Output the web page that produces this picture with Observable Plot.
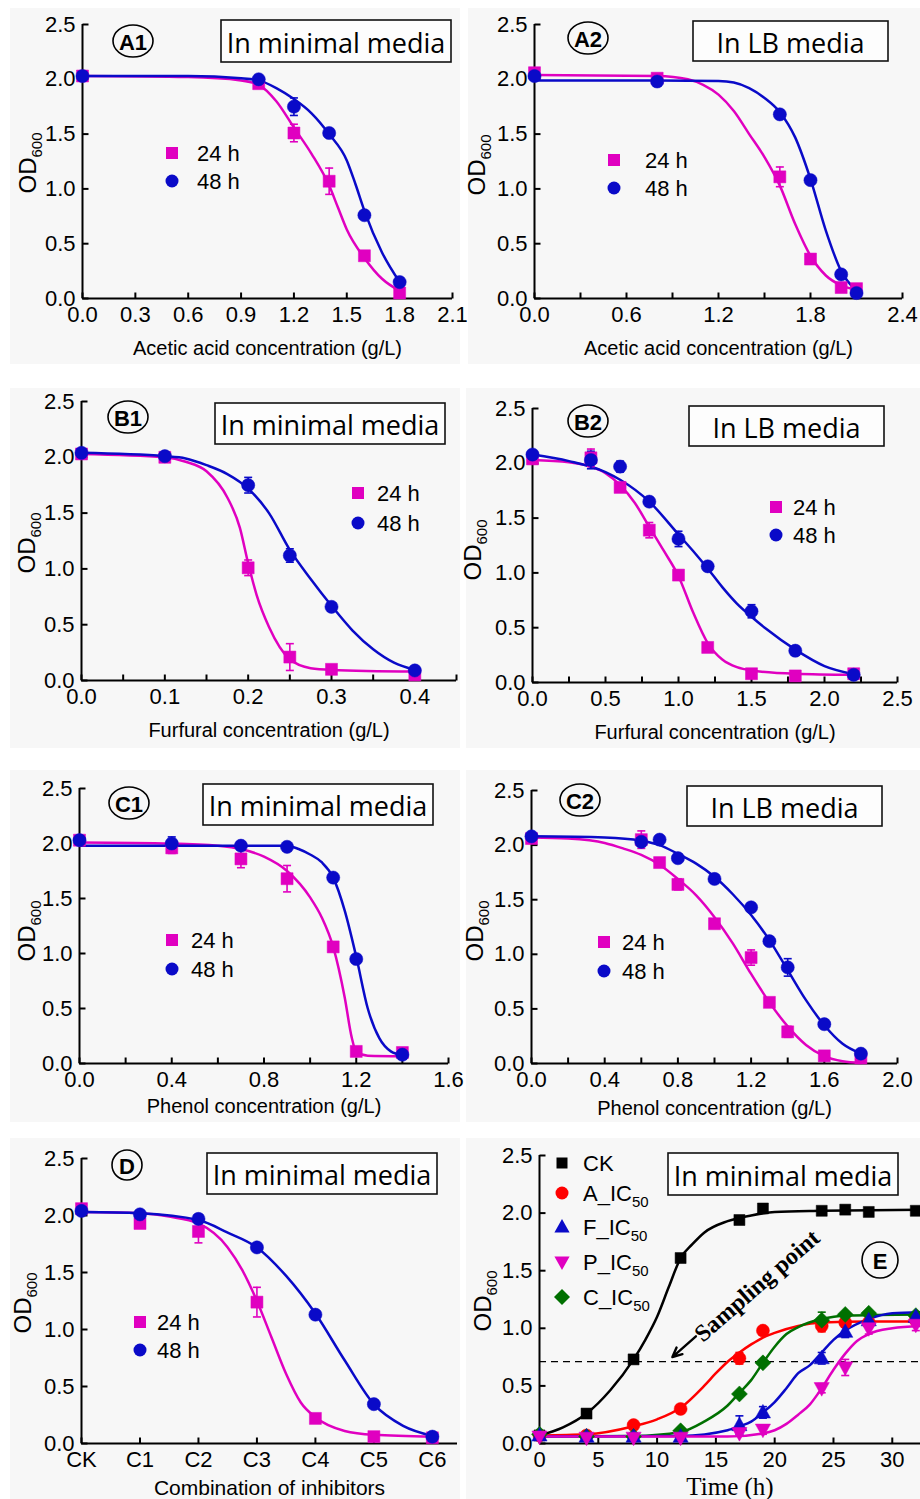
<!DOCTYPE html>
<html><head><meta charset="utf-8">
<script src="https://cdn.jsdelivr.net/npm/d3@7"></script>
<script src="https://cdn.jsdelivr.net/npm/@observablehq/plot@0.6"></script>
<style>
body{margin:0;background:#fff;}
#root{position:relative;width:920px;height:1499px;overflow:hidden;background:#fff;}
#root svg{position:absolute;}
#root svg [aria-label$="tick label"]{font-size:22px;}
</style></head><body><div id="root"></div>
<script>
// ---------- colours ----------
const MAG = "#e000c0", BLU = "#0a0ac8", RED = "#ff0000", GRN = "#007000", BLK = "#000000";
const yTicks = [0, 0.5, 1, 1.5, 2, 2.5];

// ---------- A1: acetic acid, minimal ----------
const a1X = [0, 1.0, 1.2, 1.4, 1.6, 1.8];
const a1Y24 = [2.03, 1.96, 1.51, 1.07, 0.39, 0.05];
const a1E24 = [0.02, 0.03, 0.08, 0.12, 0.03, 0.03];
const a1Y48 = [2.03, 2.00, 1.75, 1.51, 0.76, 0.15];
const a1E48 = [0.02, 0.03, 0.08, 0.03, 0.03, 0.04];
const a1FitX24 = [0, 0.6, 0.9, 1.0, 1.1, 1.2, 1.3, 1.4, 1.45, 1.5, 1.6, 1.7, 1.8];
const a1FitY24 = [2.03, 2.02, 1.99, 1.95, 1.80, 1.56, 1.32, 1.03, 0.83, 0.63, 0.37, 0.18, 0.07];
const a1FitX48 = [0, 0.6, 0.9, 1.0, 1.1, 1.2, 1.3, 1.4, 1.5, 1.55, 1.6, 1.7, 1.8];
const a1FitY48 = [2.03, 2.03, 2.01, 1.99, 1.92, 1.82, 1.69, 1.50, 1.26, 1.04, 0.80, 0.42, 0.15];

// ---------- A2: acetic acid, LB ----------
const a2X = [0, 0.8, 1.6, 1.8, 2.0, 2.1];
const a2Y24 = [2.06, 2.01, 1.11, 0.36, 0.10, 0.09];
const a2E24 = [0.04, 0.03, 0.09, 0.03, 0.03, 0.02];
const a2Y48 = [2.03, 1.98, 1.68, 1.08, 0.22, 0.05];
const a2E48 = [0.03, 0.03, 0.04, 0.03, 0.04, 0.02];
const a2FitX24 = [0, 0.8, 1.0, 1.1, 1.2, 1.3, 1.4, 1.5, 1.6, 1.7, 1.8, 1.9, 2.0, 2.1];
const a2FitY24 = [2.04, 2.03, 2.00, 1.95, 1.86, 1.71, 1.50, 1.29, 1.03, 0.68, 0.39, 0.21, 0.12, 0.08];
const a2FitX48 = [0, 0.8, 1.2, 1.3, 1.4, 1.5, 1.6, 1.7, 1.8, 1.9, 2.0, 2.1];
const a2FitY48 = [1.99, 1.99, 1.985, 1.97, 1.92, 1.83, 1.70, 1.47, 1.09, 0.62, 0.25, 0.07];

// ---------- B1: furfural, minimal ----------
const b1X = [0, 0.1, 0.2, 0.25, 0.3, 0.4];
const b1Y24 = [2.03, 2.00, 1.01, 0.21, 0.10, 0.05];
const b1E24 = [0.03, 0.03, 0.07, 0.12, 0.02, 0.02];
const b1Y48 = [2.04, 2.01, 1.75, 1.12, 0.66, 0.09];
const b1E48 = [0.02, 0.03, 0.07, 0.06, 0.03, 0.02];
const b1FitX24 = [0, 0.1, 0.125, 0.15, 0.175, 0.19, 0.2, 0.21, 0.225, 0.25, 0.275, 0.3, 0.4];
const b1FitY24 = [2.03, 2.00, 1.96, 1.875, 1.64, 1.37, 1.05, 0.77, 0.48, 0.19, 0.11, 0.095, 0.08];
const b1FitX48 = [0, 0.1, 0.125, 0.15, 0.175, 0.2, 0.225, 0.25, 0.275, 0.3, 0.325, 0.35, 0.375, 0.4];
const b1FitY48 = [2.04, 2.01, 1.99, 1.93, 1.85, 1.72, 1.50, 1.17, 0.91, 0.67, 0.45, 0.28, 0.16, 0.095];

// ---------- B2: furfural, LB ----------
const b2X = [0, 0.4, 0.6, 0.8, 1.0, 1.2, 1.5, 1.8, 2.2];
const b2Y24 = [2.04, 2.05, 1.78, 1.39, 0.98, 0.32, 0.08, 0.06, 0.08];
const b2E24 = [0.03, 0.08, 0.04, 0.07, 0.04, 0.03, 0.03, 0.02, 0.02];
const b2Y48 = [2.08, 2.03, 1.97, 1.65, 1.31, 1.06, 0.65, 0.29, 0.07];
const b2E48 = [0.02, 0.08, 0.05, 0.04, 0.07, 0.04, 0.06, 0.04, 0.03];
const b2FitX24 = [0, 0.25, 0.4, 0.5, 0.6, 0.7, 0.8, 0.9, 1.0, 1.1, 1.2, 1.3, 1.4, 1.5, 1.8, 2.2];
const b2FitY24 = [2.03, 2.01, 1.97, 1.91, 1.80, 1.64, 1.42, 1.20, 0.97, 0.64, 0.36, 0.21, 0.14, 0.11, 0.08, 0.07];
const b2FitX48 = [0, 0.25, 0.5, 0.6, 0.8, 1.0, 1.1, 1.2, 1.3, 1.4, 1.5, 1.6, 1.8, 2.0, 2.2];
const b2FitY48 = [2.08, 2.02, 1.92, 1.85, 1.65, 1.35, 1.20, 1.04, 0.87, 0.72, 0.60, 0.49, 0.30, 0.15, 0.076];

// ---------- C1: phenol, minimal ----------
const c1X = [0, 0.4, 0.7, 0.9, 1.1, 1.2, 1.4];
const c1Y24 = [2.03, 1.96, 1.86, 1.68, 1.06, 0.11, 0.10];
const c1E24 = [0.03, 0.05, 0.08, 0.12, 0.03, 0.03, 0.03];
const c1Y48 = [2.03, 2.00, 1.98, 1.97, 1.69, 0.95, 0.08];
const c1E48 = [0.03, 0.06, 0.03, 0.04, 0.03, 0.03, 0.04];
const c1FitX24 = [0, 0.4, 0.6, 0.7, 0.8, 0.9, 1.0, 1.05, 1.1, 1.15, 1.18, 1.2, 1.25, 1.4];
const c1FitY24 = [2.01, 2.00, 1.98, 1.95, 1.88, 1.75, 1.51, 1.33, 1.06, 0.60, 0.24, 0.106, 0.07, 0.065];
const c1FitX48 = [0, 0.9, 0.95, 1.0, 1.05, 1.1, 1.15, 1.2, 1.25, 1.3, 1.35, 1.4];
const c1FitY48 = [1.98, 1.98, 1.95, 1.90, 1.83, 1.69, 1.39, 0.97, 0.50, 0.23, 0.11, 0.075];

// ---------- C2: phenol, LB ----------
const c2X = [0, 0.6, 0.7, 0.8, 1.0, 1.2, 1.3, 1.4, 1.6, 1.8];
const c2Y24 = [2.06, 2.05, 1.84, 1.64, 1.28, 0.97, 0.56, 0.29, 0.07, 0.05];
const c2E24 = [0.03, 0.08, 0.04, 0.05, 0.04, 0.07, 0.04, 0.05, 0.03, 0.02];
const c2Y48 = [2.08, 2.03, 2.05, 1.88, 1.69, 1.43, 1.12, 0.88, 0.36, 0.09];
const c2E48 = [0.03, 0.03, 0.03, 0.04, 0.04, 0.04, 0.04, 0.08, 0.04, 0.03];
const c2FitX24 = [0, 0.2, 0.4, 0.5, 0.6, 0.7, 0.8, 0.9, 1.0, 1.1, 1.2, 1.3, 1.4, 1.5, 1.6, 1.7, 1.8];
const c2FitY24 = [2.07, 2.06, 2.02, 1.97, 1.91, 1.82, 1.69, 1.54, 1.34, 1.10, 0.82, 0.56, 0.34, 0.17, 0.067, 0.02, 0.005];
const c2FitX48 = [0, 0.4, 0.6, 0.7, 0.8, 0.9, 1.0, 1.1, 1.2, 1.3, 1.4, 1.5, 1.6, 1.7, 1.8];
const c2FitY48 = [2.08, 2.07, 2.04, 2.00, 1.92, 1.83, 1.71, 1.55, 1.36, 1.13, 0.855, 0.58, 0.35, 0.18, 0.09];

// ---------- D: combinations, minimal ----------
const dCats = ["CK", "C1", "C2", "C3", "C4", "C5", "C6"];
const dIdx = [0, 1, 2, 3, 4, 5, 6];
const dY24 = [2.06, 1.93, 1.86, 1.24, 0.22, 0.06, 0.05];
const dE24 = [0.03, 0.04, 0.10, 0.13, 0.03, 0.02, 0.02];
const dY48 = [2.04, 2.01, 1.97, 1.72, 1.13, 0.345, 0.06];
const dE48 = [0.02, 0.03, 0.04, 0.03, 0.03, 0.03, 0.02];
const dFitX24 = [0, 1, 1.5, 2, 2.5, 2.75, 3, 3.25, 3.5, 3.75, 4, 4.5, 5, 6];
const dFitY24 = [2.03, 2.02, 1.99, 1.93, 1.72, 1.52, 1.25, 0.93, 0.61, 0.36, 0.23, 0.11, 0.076, 0.06];
const dFitX48 = [0, 1, 2, 2.5, 3, 3.5, 4, 4.5, 5, 5.5, 6];
const dFitY48 = [2.03, 2.02, 1.96, 1.85, 1.72, 1.47, 1.14, 0.73, 0.345, 0.155, 0.067];

// ---------- E: growth curves ----------
const eTime = [0, 4, 8, 12, 17, 19, 24, 26, 28, 32];
const eCK = [0.07, 0.26, 0.73, 1.61, 1.94, 2.04, 2.02, 2.03, 2.01, 2.02];
const eA  = [0.07, 0.07, 0.16, 0.30, 0.74, 0.98, 1.02, 1.05, 1.05, 1.07];
const eF  = [0.07, 0.06, 0.06, 0.06, 0.16, 0.27, 0.74, 0.97, 1.07, 1.10];
const eP  = [0.06, 0.05, 0.05, 0.05, 0.09, 0.12, 0.48, 0.66, 1.00, 1.03];
const eC  = [0.08, 0.06, 0.06, 0.11, 0.43, 0.70, 1.07, 1.12, 1.13, 1.11];
const eErrA = [0, 0, 0, 0, 0.05, 0, 0.05, 0, 0, 0];
const eErrF = [0, 0, 0, 0, 0.08, 0.05, 0.05, 0.05, 0, 0];
const eErrP = [0, 0, 0, 0, 0, 0.04, 0.04, 0.07, 0.05, 0.05];
const eErrC = [0, 0, 0, 0, 0, 0, 0.07, 0, 0, 0];
const eFitXCK = [0, 2, 4, 6, 8, 9, 10, 11, 12, 13, 14, 16, 18, 20, 24, 32.4];
const eFitCK  = [0.07, 0.14, 0.26, 0.46, 0.73, 0.90, 1.10, 1.36, 1.61, 1.73, 1.83, 1.93, 1.98, 2.01, 2.02, 2.03];
const eFitXA = [0, 4, 8, 10, 12, 14, 15, 16, 17, 18, 19, 20, 22, 24, 28, 32.4];
const eFitA  = [0.07, 0.08, 0.15, 0.21, 0.31, 0.50, 0.61, 0.71, 0.79, 0.86, 0.92, 0.96, 1.02, 1.05, 1.06, 1.06];
const eFitXC = [0, 8, 12, 14, 16, 17, 18, 19, 20, 21, 22, 24, 26, 32.4];
const eFitC  = [0.06, 0.065, 0.10, 0.19, 0.33, 0.44, 0.55, 0.70, 0.84, 0.95, 1.01, 1.08, 1.11, 1.12];
const eFitXF = [0, 12, 16, 17, 18, 19, 20, 21, 22, 23, 24, 25, 26, 28, 30, 32.4];
const eFitF  = [0.06, 0.065, 0.115, 0.15, 0.19, 0.27, 0.36, 0.48, 0.61, 0.68, 0.79, 0.90, 0.98, 1.08, 1.13, 1.14];
const eFitXP = [0, 16, 19, 20, 21, 22, 23, 24, 25, 26, 27, 28, 30, 32.4];
const eFitP  = [0.06, 0.06, 0.087, 0.115, 0.17, 0.25, 0.34, 0.48, 0.64, 0.78, 0.89, 0.95, 1.00, 1.02];
const eSampling = 0.71;
const eLegend = [["CK", ""], ["A_IC", "50"], ["F_IC", "50"], ["P_IC", "50"], ["C_IC", "50"]];

// ---------- symbols ----------
const R = s => Math.sqrt(s / Math.PI);
const symSquare = {draw(c, s){ const h = R(s); c.moveTo(-h,-h); c.lineTo(h,-h); c.lineTo(h,h); c.lineTo(-h,h); c.closePath(); }};
const symCircle = {draw(c, s){ const r = R(s); c.moveTo(r,0); c.arc(0,0,r,0,2*Math.PI); }};
const symTriUp = {draw(c, s){ const r = R(s); c.moveTo(0,-r); c.lineTo(r*0.95,r*0.7); c.lineTo(-r*0.95,r*0.7); c.closePath(); }};
const symTriDown = {draw(c, s){ const r = R(s); c.moveTo(0,r); c.lineTo(r*0.95,-r*0.7); c.lineTo(-r*0.95,-r*0.7); c.closePath(); }};
const symDiamond = {draw(c, s){ const r = R(s); c.moveTo(0,-r); c.lineTo(r,0); c.lineTo(0,r); c.lineTo(-r,0); c.closePath(); }};
const symTickUp = {draw(c, s){ const r = R(s); c.moveTo(0,0); c.lineTo(0,-r); }};
const symTickRight = {draw(c, s){ const r = R(s); c.moveTo(0,0); c.lineTo(r,0); }};
const symCap = {draw(c, s){ const r = R(s); c.moveTo(-r,0); c.lineTo(r,0); }};

const pts = (xs, ys, es) => xs.map((x, i) => ({x, y: ys[i], e: es ? es[i] : 0}));
const range = (a, b, s) => d3.range(0, Math.round((b - a) / s) + 1).map(i => +(a + i * s).toFixed(4));

const SANS = "Liberation Sans, Arial, sans-serif";
const root = document.getElementById("root");

function panel(cfg) {
  const [px, py, pw, ph] = cfg.box;
  const [fl, ft, fr, fb] = cfg.frame;
  const marks = [];
  marks.push(Plot.ruleY([0], {stroke: "black", strokeWidth: 2}));
  marks.push(Plot.ruleX([0], {stroke: "black", strokeWidth: 2}));
  marks.push(Plot.dot(cfg.xMinor, {x: d => d, y: 0, symbol: symTickUp, r: 6, stroke: "black", fill: "none", strokeWidth: 2}));
  marks.push(Plot.dot(yTicks, {x: cfg.xDomain[0], y: d => d, symbol: symTickRight, r: 6, stroke: "black", fill: "none", strokeWidth: 2}));
  marks.push(Plot.axisX(cfg.xTicks, {tickSize: 0, tickPadding: 8, tickFormat: cfg.xFormat, fontSize: 22, label: null, fill: "black"}));
  marks.push(Plot.axisY(yTicks, {tickSize: 0, tickPadding: 7, tickFormat: d3.format(".1f"), fontSize: 22, label: null, fill: "black"}));
  if (cfg.extra) marks.push(...cfg.extra);
  for (const s of cfg.series) {
    marks.push(Plot.line(s.fit, {x: "x", y: "y", stroke: s.color, strokeWidth: 2.5, curve: "monotone-x"}));
  }
  for (const s of cfg.series) {
    const withErr = s.pts.filter(d => d.e >= 0.035);
    marks.push(Plot.ruleX(withErr, {x: "x", y1: d => d.y - d.e, y2: d => d.y + d.e, stroke: s.color, strokeWidth: 1.6}));
    marks.push(Plot.dot(withErr.flatMap(d => [{x: d.x, y: d.y - d.e}, {x: d.x, y: d.y + d.e}]),
      {x: "x", y: "y", symbol: symCap, r: 4, stroke: s.color, fill: "none", strokeWidth: 1.6}));
  }
  for (const s of cfg.series) {
    marks.push(Plot.dot(s.pts, {x: "x", y: "y", symbol: s.symbol, r: s.r, fill: s.color, stroke: s.color, strokeWidth: 0.5}));
  }
  if (cfg.xLabel) {
    marks.push(Plot.text([cfg.xLabel], {frameAnchor: "bottom", dy: cfg.xLabelDy, text: d => d, fontSize: cfg.xLabelSize || 20,
      fontFamily: cfg.xLabelFont || SANS, fill: "black", lineAnchor: "middle"}));
  }
  const svg = Plot.plot({
    width: pw, height: ph,
    marginLeft: fl - px, marginRight: px + pw - fr, marginTop: ft - py, marginBottom: py + ph - fb,
    x: {domain: cfg.xDomain},
    y: {domain: [0, 2.5]},
    style: {background: "#f7f7f7", fontFamily: SANS, fontSize: "22px", color: "black", overflow: "visible"},
    marks
  });
  svg.style.left = px + "px";
  svg.style.top = py + "px";
  root.appendChild(svg);

  const g = d3.select(svg).append("g").attr("font-family", SANS).attr("fill", "black").attr("text-anchor", "start");
  const L = (x, y) => [x - px, y - py];
  // y label OD600
  {
    const [x, y] = L(cfg.yLab[0], cfg.yLab[1]);
    const t = g.append("text").attr("transform", `translate(${x + 8},${y}) rotate(-90)`)
      .attr("text-anchor", "middle").attr("font-size", 24);
    t.append("tspan").text("OD");
    t.append("tspan").attr("font-size", 15).attr("dy", 6).text("600");
  }
  // title box
  {
    const [x0, y0] = L(cfg.titleBox[0], cfg.titleBox[1]);
    const w = cfg.titleBox[2] - cfg.titleBox[0], h = cfg.titleBox[3] - cfg.titleBox[1];
    g.append("rect").attr("x", x0).attr("y", y0).attr("width", w).attr("height", h)
      .attr("fill", "#fdfdfd").attr("stroke", "#111").attr("stroke-width", 1.6);
    g.append("text").attr("x", x0 + w / 2).attr("y", y0 + h / 2 + 1).attr("text-anchor", "middle")
      .attr("dominant-baseline", "central").attr("font-family", "Open Sans, Liberation Sans, sans-serif")
      .attr("font-size", 27).text(cfg.title);
  }
  // circled panel label
  {
    const [x, y] = L(cfg.tag[0], cfg.tag[1]);
    g.append("ellipse").attr("cx", x).attr("cy", y).attr("rx", cfg.tag[2]).attr("ry", cfg.tag[3])
      .attr("fill", "none").attr("stroke", "black").attr("stroke-width", 1.6);
    g.append("text").attr("x", x).attr("y", y + 1).attr("text-anchor", "middle").attr("dominant-baseline", "central")
      .attr("font-weight", "bold").attr("font-size", cfg.tag[4] || 22).text(cfg.tagText);
  }
  // legend
  if (cfg.legend) {
    const lg = cfg.legend;
    lg.items.forEach((it, i) => {
      const [x, y] = L(lg.x, lg.ys[i]);
      g.append("path").attr("transform", `translate(${x},${y})`)
        .attr("d", d3.symbol().type(it.symbol).size(Math.PI * it.r * it.r)())
        .attr("fill", it.color);
      const [tx] = L(lg.tx, 0);
      const t = g.append("text").attr("x", tx).attr("y", y).attr("text-anchor", "start")
        .attr("dominant-baseline", "central").attr("font-size", 22);
      t.append("tspan").text(it.label);
      if (it.sub) t.append("tspan").attr("font-size", 15).attr("dy", 8).text(it.sub);
    });
  }
  if (cfg.post) cfg.post(g, L);
}

const fmt1 = d3.format(".1f");
const legend2 = (x, y1, y2, tx) => ({x, ys: [y1, y2], tx, items: [
  {symbol: symSquare, r: 6, color: MAG, label: "24 h"},
  {symbol: symCircle, r: 6.5, color: BLU, label: "48 h"}]});
const two = (X, Y24, E24, Y48, E48, FX24, FY24, FX48, FY48) => [
  {pts: pts(X, Y24, E24), fit: pts(FX24, FY24), color: MAG, symbol: symSquare, r: 6},
  {pts: pts(X, Y48, E48), fit: pts(FX48, FY48), color: BLU, symbol: symCircle, r: 6.6}];

panel({box: [10, 8, 450, 356], frame: [82, 24, 452, 298], xDomain: [0, 2.1],
  xTicks: range(0, 2.1, 0.3), xMinor: range(0, 2.1, 0.3), xFormat: fmt1,
  xLabel: "Acetic acid concentration (g/L)", xLabelDy: 50, yLab: [28, 163],
  titleBox: [221, 20, 451, 62], title: "In minimal media", tag: [133, 41, 20, 16], tagText: "A1",
  legend: legend2(172, 153, 181, 197),
  series: two(a1X, a1Y24, a1E24, a1Y48, a1E48, a1FitX24, a1FitY24, a1FitX48, a1FitY48)});

panel({box: [468, 8, 452, 356], frame: [534, 24, 902, 298], xDomain: [0, 2.4],
  xTicks: range(0, 2.4, 0.6), xMinor: range(0, 2.4, 0.3), xFormat: fmt1,
  xLabel: "Acetic acid concentration (g/L)", xLabelDy: 50, yLab: [477, 165],
  titleBox: [693, 21, 888, 61], title: "In LB media", tag: [588, 38, 20, 16], tagText: "A2",
  legend: legend2(614, 160, 188, 645),
  series: two(a2X, a2Y24, a2E24, a2Y48, a2E48, a2FitX24, a2FitY24, a2FitX48, a2FitY48)});

panel({box: [10, 388, 450, 360], frame: [81, 401, 456, 680], xDomain: [0, 0.45],
  xTicks: range(0, 0.4, 0.1), xMinor: range(0, 0.45, 0.05), xFormat: fmt1,
  xLabel: "Furfural concentration (g/L)", xLabelDy: 50, yLab: [27, 543],
  titleBox: [215, 403, 445, 444], title: "In minimal media", tag: [128, 417, 20, 16], tagText: "B1",
  legend: legend2(358, 493, 523, 377),
  series: two(b1X, b1Y24, b1E24, b1Y48, b1E48, b1FitX24, b1FitY24, b1FitX48, b1FitY48)});

panel({box: [466, 388, 454, 360], frame: [532, 408, 897, 682], xDomain: [0, 2.5],
  xTicks: range(0, 2.5, 0.5), xMinor: range(0, 2.5, 0.25), xFormat: fmt1,
  xLabel: "Furfural concentration (g/L)", xLabelDy: 50, yLab: [473, 550],
  titleBox: [689, 406, 884, 446], title: "In LB media", tag: [588, 421, 20, 16], tagText: "B2",
  legend: legend2(776, 507, 535, 793),
  series: two(b2X, b2Y24, b2E24, b2Y48, b2E48, b2FitX24, b2FitY24, b2FitX48, b2FitY48)});

panel({box: [10, 770, 450, 352], frame: [79, 788, 448, 1063], xDomain: [0, 1.6],
  xTicks: range(0, 1.6, 0.4), xMinor: range(0, 1.6, 0.2), xFormat: fmt1,
  xLabel: "Phenol concentration (g/L)", xLabelDy: 43, yLab: [27, 931],
  titleBox: [203, 784, 433, 825], title: "In minimal media", tag: [129, 803, 20, 16], tagText: "C1",
  legend: legend2(172, 940, 969, 191),
  series: two(c1X, c1Y24, c1E24, c1Y48, c1E48, c1FitX24, c1FitY24, c1FitX48, c1FitY48)});

panel({box: [466, 770, 454, 352], frame: [531, 790, 897, 1063], xDomain: [0, 2.0],
  xTicks: range(0, 2.0, 0.4), xMinor: range(0, 2.0, 0.2), xFormat: fmt1,
  xLabel: "Phenol concentration (g/L)", xLabelDy: 45, yLab: [475, 931],
  titleBox: [687, 786, 882, 826], title: "In LB media", tag: [580, 800, 20, 16], tagText: "C2",
  legend: legend2(604, 942, 971, 622),
  series: two(c2X, c2Y24, c2E24, c2Y48, c2E48, c2FitX24, c2FitY24, c2FitX48, c2FitY48)});

panel({box: [10, 1138, 450, 361], frame: [81, 1158, 457, 1443], xDomain: [0, 6.43],
  xTicks: dIdx, xMinor: dIdx, xFormat: i => dCats[i],
  xLabel: "Combination of inhibitors", xLabelDy: 45, xLabelSize: 21, yLab: [23, 1303],
  titleBox: [207, 1153, 437, 1194], title: "In minimal media", tag: [127, 1165, 15, 15], tagText: "D",
  legend: legend2(140, 1322, 1350, 157),
  series: two(dIdx, dY24, dE24, dY48, dE48, dFitX24, dFitY24, dFitX48, dFitY48)});

const samplingArrow = [{x1: 13.3, y1: 0.93, x2: 11.3, y2: 0.75}];
panel({box: [466, 1138, 454, 361], frame: [539, 1155, 920, 1443], xDomain: [0, 32.4],
  xTicks: range(0, 30, 5), xMinor: range(0, 30, 5), xFormat: d3.format("d"),
  xLabel: "Time (h)", xLabelDy: 43, xLabelSize: 25, xLabelFont: "Liberation Serif, Times New Roman, serif", yLab: [483, 1301],
  titleBox: [668, 1153, 898, 1195], title: "In minimal media", tag: [880, 1260, 18, 18], tagText: "E",
  extra: [
    Plot.ruleY([eSampling], {stroke: "black", strokeWidth: 1.3, strokeDasharray: "7,5"}),
    Plot.arrow(samplingArrow, {x1: "x1", y1: "y1", x2: "x2", y2: "y2", stroke: "black", strokeWidth: 2.4, headLength: 12, headAngle: 50})
  ],
  legend: {x: 562, ys: [1163, 1193, 1227, 1262, 1297], tx: 583, items: [
    {symbol: symSquare, r: 5.5, color: BLK, label: eLegend[0][0], sub: eLegend[0][1]},
    {symbol: symCircle, r: 6.5, color: RED, label: eLegend[1][0], sub: eLegend[1][1]},
    {symbol: symTriUp, r: 8, color: BLU, label: eLegend[2][0], sub: eLegend[2][1]},
    {symbol: symTriDown, r: 8, color: MAG, label: eLegend[3][0], sub: eLegend[3][1]},
    {symbol: symDiamond, r: 8, color: GRN, label: eLegend[4][0], sub: eLegend[4][1]}]},
  series: [
    {pts: pts(eTime, eCK), fit: pts(eFitXCK, eFitCK), color: BLK, symbol: symSquare, r: 5.5},
    {pts: pts(eTime, eA, eErrA), fit: pts(eFitXA, eFitA), color: RED, symbol: symCircle, r: 6.5},
    {pts: pts(eTime, eC, eErrC), fit: pts(eFitXC, eFitC), color: GRN, symbol: symDiamond, r: 8},
    {pts: pts(eTime, eF, eErrF), fit: pts(eFitXF, eFitF), color: BLU, symbol: symTriUp, r: 8},
    {pts: pts(eTime, eP, eErrP), fit: pts(eFitXP, eFitP), color: MAG, symbol: symTriDown, r: 8}],
  post: (g, L) => {
    const [x, y] = L(703, 1343);
    g.append("text").attr("transform", `translate(${x},${y}) rotate(-41)`).attr("text-anchor", "start")
      .attr("font-family", "Liberation Serif, Times New Roman, serif").attr("font-weight", "bold")
      .attr("font-size", 24).text("Sampling point");
  }
});
</script></body></html>
